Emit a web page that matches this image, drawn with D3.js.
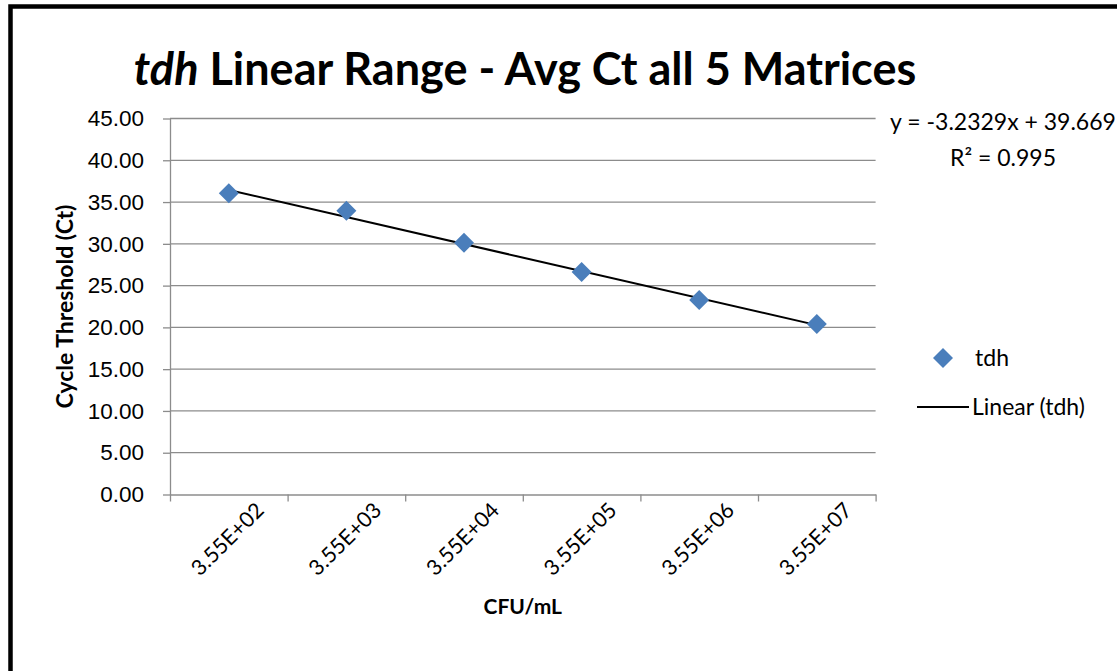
<!DOCTYPE html>
<html>
<head>
  <meta charset="UTF-8" />
  <title>tdh Linear Range - Avg Ct all 5 Matrices</title>
  <style>
    body { margin: 0; background: #fff; }
    svg { display: block; font-family: Lato, "Open Sans", sans-serif; }
    .grid line { stroke: #8c8c8c; stroke-width: 1.3; }
    .axis path, .axis line { stroke: #8c8c8c; stroke-width: 1.3; }
    .axis text { fill: #000; }
  </style>
</head>
<body>
  <div id="chart"></div>
  <script src="https://d3js.org/d3.v7.min.js"></script>
  <script>
    // données
    const categories = ["3.55E+02", "3.55E+03", "3.55E+04", "3.55E+05", "3.55E+06", "3.55E+07"];
    const ctValues = [36.05, 33.96, 30.13, 26.63, 23.28, 20.40];
    const yTicks = [0, 5, 10, 15, 20, 25, 30, 35, 40, 45];
    const trendSlope = -3.2329;
    const trendIntercept = 39.669;
    const rSquared = 0.995;

    const W = 1117, H = 671;
    const margin = { top: 118.5, right: 241.4, bottom: 176.5, left: 170 };
    const width = W - margin.left - margin.right,
      height = H - margin.top - margin.bottom;

    const svg = d3.select("#chart").append("svg")
      .attr("width", W)
      .attr("height", H);

    // cadre
    svg.append("rect")
      .attr("x", 10.5).attr("y", 6.5)
      .attr("width", W + 20).attr("height", H + 20)
      .attr("fill", "none")
      .attr("stroke", "#000")
      .attr("stroke-width", 4.5);

    const g = svg.append("g")
      .attr("transform", `translate(${margin.left},${margin.top})`);

    const x = d3.scaleBand()
      .domain(categories)
      .range([0, width]);

    const xEdge = d3.scaleLinear()
      .domain([0, categories.length])
      .range([0, width]);

    const y = d3.scaleLinear()
      .domain([0, 45])
      .range([height, 0]);

    // lignes de quadrillage
    g.append("g")
      .attr("class", "grid")
      .selectAll("line")
      .data(yTicks.filter(d => d > 0))
      .enter()
      .append("line")
      .attr("x1", 0)
      .attr("x2", width)
      .attr("y1", d => y(d))
      .attr("y2", d => y(d));

    // axe y
    const yAxis = g.append("g")
      .attr("class", "axis")
      .call(d3.axisLeft(y).tickValues(yTicks).tickFormat(d3.format(".2f")).tickSize(7).tickSizeOuter(0).tickPadding(19));
    yAxis.selectAll("text")
      .attr("font-size", 22.5);

    // axe x (graduations entre les catégories)
    g.append("g")
      .attr("class", "axis")
      .attr("transform", `translate(0,${height})`)
      .call(d3.axisBottom(xEdge).tickValues(d3.range(categories.length + 1)).tickFormat("").tickSize(7).tickSizeOuter(0));

    g.append("g")
      .selectAll("text")
      .data(categories)
      .enter()
      .append("text")
      .attr("transform", d => `translate(${x(d) + x.bandwidth() / 2},${height + 46}) rotate(-45)`)
      .attr("text-anchor", "middle")
      .attr("dominant-baseline", "middle")
      .attr("font-size", 21.5)
      .text(d => d);

    // courbe de tendance
    const trend = d3.line()
      .x(d => x(categories[d]) + x.bandwidth() / 2)
      .y(d => y(trendSlope * (d + 1) + trendIntercept));

    g.append("path")
      .datum([0, categories.length - 1])
      .attr("d", trend)
      .attr("fill", "none")
      .attr("stroke", "#000")
      .attr("stroke-width", 2);

    // points
    const diamond = d3.symbol().type(d3.symbolSquare).size(200);
    g.selectAll(".pt")
      .data(ctValues)
      .enter()
      .append("path")
      .attr("class", "pt")
      .attr("d", diamond)
      .attr("transform", (d, i) => `translate(${x(categories[i]) + x.bandwidth() / 2},${y(d)}) rotate(45)`)
      .attr("fill", "#4a7ebb");

    // titre
    const title = svg.append("text")
      .attr("x", 525)
      .attr("y", 85)
      .attr("text-anchor", "middle")
      .attr("font-size", 45)
      .attr("font-weight", "bold");
    title.append("tspan").attr("font-style", "italic").text("tdh");
    title.append("tspan").text(" Linear Range - Avg Ct all 5 Matrices");

    // titres des axes
    svg.append("text")
      .attr("transform", `translate(73,${margin.top + height / 2}) rotate(-90)`)
      .attr("text-anchor", "middle")
      .attr("font-size", 23)
      .attr("font-weight", "bold")
      .text("Cycle Threshold (Ct)");

    svg.append("text")
      .attr("x", margin.left + width / 2)
      .attr("y", 614)
      .attr("text-anchor", "middle")
      .attr("font-size", 21)
      .attr("font-weight", "bold")
      .text("CFU/mL");

    // équation
    svg.append("text")
      .attr("x", 1003)
      .attr("y", 130)
      .attr("text-anchor", "middle")
      .attr("font-size", 23)
      .text(`y = ${trendSlope}x + ${trendIntercept}`);

    svg.append("text")
      .attr("x", 1003)
      .attr("y", 166)
      .attr("text-anchor", "middle")
      .attr("font-size", 23)
      .text(`R² = ${rSquared}`);

    // légende
    const legend = svg.append("g");
    legend.append("path")
      .attr("d", diamond)
      .attr("transform", "translate(943,358) rotate(45)")
      .attr("fill", "#4a7ebb");
    legend.append("text")
      .attr("x", 975).attr("y", 366)
      .attr("font-size", 23)
      .text("tdh");
    legend.append("line")
      .attr("x1", 917).attr("x2", 969)
      .attr("y1", 407).attr("y2", 407)
      .attr("stroke", "#000")
      .attr("stroke-width", 2);
    legend.append("text")
      .attr("x", 972).attr("y", 415)
      .attr("font-size", 23)
      .text("Linear (tdh)");
  </script>
</body>
</html>
